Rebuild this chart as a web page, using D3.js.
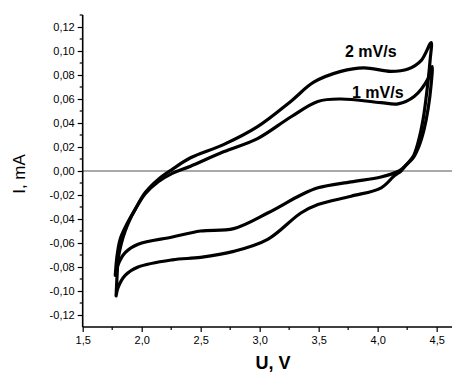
<!DOCTYPE html>
<html>
<head>
<meta charset="utf-8">
<script src="https://cdn.jsdelivr.net/npm/d3@7"></script>
<style>
  html, body { margin: 0; padding: 0; background: #fff; }
  svg { display: block; }
  text { font-family: Arial, "Liberation Sans", sans-serif; }
</style>
</head>
<body>
<svg id="chart" width="456" height="372"></svg>
<script>
// ---- data ----
// 2 mV/s loop: anodic branch (left -> right) then cathodic branch (right -> left)
const u2 = [1.783, 1.792, 1.800, 1.826, 1.860, 1.902, 1.945, 2.030, 2.140, 2.259, 2.414, 2.693, 2.982, 3.263, 3.458, 3.688, 3.883, 4.113, 4.258, 4.368, 4.453,
            4.445, 4.419, 4.385, 4.343, 4.300, 4.241, 4.198, 4.141, 4.030, 3.775, 3.494, 3.349, 3.068, 2.780, 2.499, 2.260, 1.970, 1.860, 1.800, 1.783];
const i2 = [-0.104, -0.086, -0.074, -0.061, -0.050, -0.040, -0.032, -0.018, -0.007, 0.0014, 0.011, 0.022, 0.037, 0.058, 0.074, 0.083, 0.086, 0.083, 0.085, 0.092, 0.107,
            0.093, 0.068, 0.043, 0.024, 0.012, 0.005, 0.000, -0.004, -0.014, -0.021, -0.028, -0.035, -0.057, -0.067, -0.072, -0.074, -0.080, -0.087, -0.097, -0.104];
// 1 mV/s loop
const u1 = [1.776, 1.792, 1.817, 1.860, 1.945, 2.030, 2.140, 2.259, 2.414, 2.693, 2.982, 3.263, 3.493, 3.688, 4.028, 4.173, 4.309, 4.428, 4.462,
            4.453, 4.428, 4.394, 4.351, 4.301, 4.241, 4.181, 4.028, 3.775, 3.494, 3.349, 3.068, 2.780, 2.499, 2.260, 1.970, 1.860, 1.800, 1.776];
const i1 = [-0.087, -0.070, -0.057, -0.047, -0.032, -0.019, -0.009, -0.002, 0.004, 0.016, 0.027, 0.045, 0.058, 0.060, 0.057, 0.056, 0.062, 0.077, 0.087,
            0.072, 0.052, 0.035, 0.021, 0.011, 0.005, 0.000, -0.005, -0.009, -0.014, -0.020, -0.035, -0.048, -0.050, -0.055, -0.061, -0.068, -0.078, -0.087];
const seriesNames = ["2 mV/s", "1 mV/s"];
const xTicks = [1.5, 2.0, 2.5, 3.0, 3.5, 4.0, 4.5];
const xMinor = [1.75, 2.25, 2.75, 3.25, 3.75, 4.25];
const yTicks = [-0.12, -0.10, -0.08, -0.06, -0.04, -0.02, 0.00, 0.02, 0.04, 0.06, 0.08, 0.10, 0.12];
const yMinor = [-0.11, -0.09, -0.07, -0.05, -0.03, -0.01, 0.01, 0.03, 0.05, 0.07, 0.09, 0.11, 0.13];
const xTitle = "U, V";
const yTitle = "I, mA";

// ---- layout ----
const svg = d3.select("#chart");
const x = d3.scaleLinear().domain([1.5, 4.63]).range([82.7, 452]);
const y = d3.scaleLinear().domain([-0.13, 0.13]).range([327, 15]);

const fmtX = d => d.toFixed(1).replace(".", ",");
const fmtY = d => (d < -1e-9 ? "-" : "") + Math.abs(d).toFixed(2).replace(".", ",");

// zero line
svg.append("line")
  .attr("x1", x(1.5)).attr("x2", x(4.63))
  .attr("y1", y(0)).attr("y2", y(0))
  .attr("stroke", "#555").attr("stroke-width", 1.2);

// curves
const line = d3.line().x(d => x(d[0])).y(d => y(d[1])).curve(d3.curveCatmullRom.alpha(0.5));
const loops = [d3.zip(u2, i2), d3.zip(u1, i1)];
svg.selectAll("path.loop").data(loops).join("path")
  .attr("class", "loop")
  .attr("d", line)
  .attr("fill", "none")
  .attr("stroke", "#000")
  .attr("stroke-width", 3.2)
  .attr("stroke-linejoin", "round")
  .attr("stroke-linecap", "round");

// x axis
const gx = svg.append("g").attr("transform", `translate(0,${y(-0.13)})`);
gx.call(d3.axisBottom(x).tickValues(xTicks).tickFormat(fmtX).tickSize(5).tickPadding(4));
gx.append("g").selectAll("line").data(xMinor).join("line")
  .attr("x1", d => x(d)).attr("x2", d => x(d)).attr("y1", 0).attr("y2", 3)
  .attr("stroke", "#000").attr("stroke-width", 1.2);

// y axis
const gy = svg.append("g").attr("transform", `translate(${x(1.5)},0)`);
gy.call(d3.axisLeft(y).tickValues(yTicks).tickFormat(fmtY).tickSize(5).tickPadding(3));
gy.append("g").selectAll("line").data(yMinor).join("line")
  .attr("y1", d => y(d)).attr("y2", d => y(d)).attr("x1", 0).attr("x2", -3)
  .attr("stroke", "#000").attr("stroke-width", 1.2);

[gx, gy].forEach(g => {
  g.select(".domain").attr("stroke", "#000").attr("stroke-width", 1.6);
  g.selectAll(".tick line").attr("stroke", "#000").attr("stroke-width", 1.2);
  g.selectAll(".tick text").attr("font-size", 11).attr("fill", "#000")
    .attr("font-family", "Arial, 'Liberation Sans', sans-serif");
});
gx.select(".domain").attr("d", `M${x(1.5)},0H${x(4.63)}`);
gy.select(".domain").attr("d", `M0,${y(0.13)}V${y(-0.13)}`);

// axis titles
svg.append("text")
  .attr("x", 273).attr("y", 369)
  .attr("text-anchor", "middle")
  .attr("font-size", 18).attr("font-weight", "bold")
  .text(xTitle);
svg.append("text")
  .attr("transform", "translate(25,174) rotate(-90)")
  .attr("text-anchor", "middle")
  .attr("font-size", 17)
  .text(yTitle);

// series labels
const labelPos = [[3.723, 0.095], [3.782, 0.0608]];
svg.selectAll("text.series").data(seriesNames).join("text")
  .attr("class", "series")
  .attr("x", (d, k) => x(labelPos[k][0]))
  .attr("y", (d, k) => y(labelPos[k][1]))
  .attr("font-size", 16).attr("font-weight", "bold")
  .text(d => d);
</script>
</body>
</html>
